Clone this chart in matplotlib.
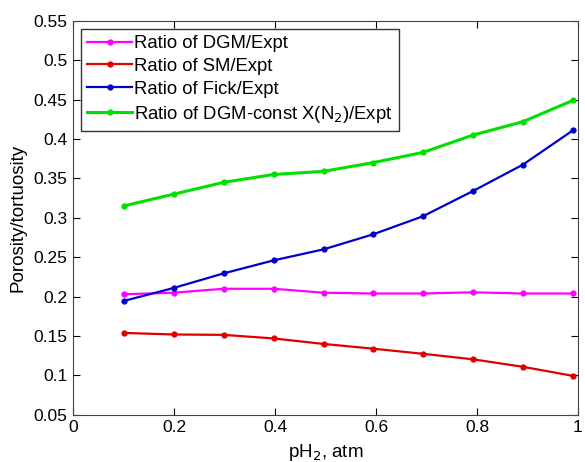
import numpy as np
import matplotlib
matplotlib.use("Agg")
import matplotlib.pyplot as plt

plt.rcParams['font.family'] = ['Liberation Sans', 'DejaVu Sans']

# pH2 values (atm)
ph2 = [0.1, 0.199, 0.298, 0.397, 0.496, 0.594, 0.693, 0.792, 0.891, 0.99]

dgm = [0.203, 0.205, 0.210, 0.210, 0.205, 0.204, 0.204, 0.2055, 0.204, 0.204]
sm = [0.154, 0.152, 0.1515, 0.147, 0.140, 0.134, 0.1275, 0.1205, 0.111, 0.0995]
fick = [0.1945, 0.211, 0.2295, 0.246, 0.260, 0.279, 0.302, 0.334, 0.3675, 0.411]
dgm_const = [0.315, 0.330, 0.345, 0.355, 0.359, 0.370, 0.383, 0.405, 0.422, 0.449]

fig = plt.figure(figsize=(5.85, 4.62), dpi=100)
ax = fig.add_axes([0.125, 0.102, 0.863, 0.853])

ax.plot(ph2, dgm, color="#ff00ff", marker=".", markersize=7, lw=1.6, label="Ratio of DGM/Expt")
ax.plot(ph2, sm, color="#e00000", marker=".", markersize=7, lw=1.6, label="Ratio of SM/Expt")
ax.plot(ph2, fick, color="#0000cc", marker=".", markersize=7, lw=1.6, label="Ratio of Fick/Expt")
ax.plot(ph2, dgm_const, color="#00e000", marker=".", markersize=7, lw=2.2, label="Ratio of DGM-const X(N$_2$)/Expt")

ax.set_xlim(0, 1)
ax.set_ylim(0.05, 0.55)
ax.set_xticks([0, 0.2, 0.4, 0.6, 0.8, 1])
ax.set_xticklabels(["0", "0.2", "0.4", "0.6", "0.8", "1"])
ax.set_yticks(np.arange(0.05, 0.551, 0.05))
ax.set_yticklabels(["0.05", "0.1", "0.15", "0.2", "0.25", "0.3", "0.35", "0.4", "0.45", "0.5", "0.55"])
ax.tick_params(direction="in", top=True, right=True, labelsize=12.5, length=5, pad=4)
for s in ax.spines.values():
    s.set_color("#444444")

ax.set_xlabel("pH$_2$, atm", fontsize=13.5, labelpad=5)
ax.set_ylabel("Porosity/tortuosity", fontsize=13.5, labelpad=5)

leg = ax.legend(loc="upper left", fontsize=13.3, fancybox=False, edgecolor="black",
                handlelength=2.4, handletextpad=0.15, borderpad=0.35, labelspacing=0.32,
                borderaxespad=0.42)
leg.get_frame().set_linewidth(1.0)

fig.savefig("out.png", dpi=100)
